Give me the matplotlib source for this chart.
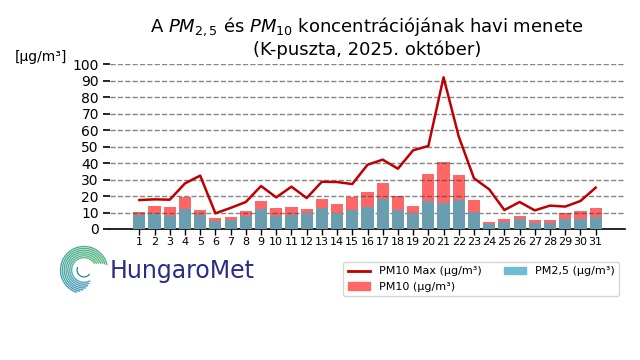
import numpy as np
import matplotlib
matplotlib.use("Agg")
import matplotlib.pyplot as plt
from matplotlib.patches import Patch
from matplotlib.lines import Line2D
from matplotlib.collections import LineCollection
from matplotlib.colors import LinearSegmentedColormap

# ---- data ----
days = list(range(1, 32))
pm10 = [10.3, 14.0, 13.4, 19.4, 11.5, 6.7, 7.3, 10.9, 17.0, 12.8, 13.4, 12.1, 18.2, 15.2, 19.4, 22.5,
        27.9, 20.2, 14.0, 33.4, 40.7, 32.8, 17.6, 4.3, 6.1, 7.9, 5.5, 5.5, 9.7, 10.9, 12.8]
pm25 = [8.3, 9.3, 7.9, 11.9, 8.3, 4.9, 5.5, 7.9, 11.9, 7.9, 8.3, 9.5, 12.8, 9.5, 11.5, 13.4,
        18.2, 11.5, 9.7, 17.0, 15.8, 17.8, 10.5, 3.2, 4.5, 6.1, 3.6, 3.6, 6.1, 6.1, 7.3]
pm10_max = [17.6, 18.0, 17.8, 27.7, 32.4, 9.5, 12.8, 16.4, 26.1, 19.2, 25.7, 18.8, 28.7, 28.5, 27.3, 39.0,
            42.1, 36.6, 47.8, 50.4, 92.1, 56.1, 30.8, 24.1, 11.5, 16.4, 11.3, 14.2, 13.6, 17.0, 25.1]
yticks = list(range(0, 101, 10))
labels = ["PM10 Max (µg/m³)", "PM10 (µg/m³)", "PM2,5 (µg/m³)"]

RED = "#ff6666"
BLUE = "#6b9db0"
BLUE_LEG = "#70bcd2"
LINE = "#c00000"

fig = plt.figure(figsize=(6.4, 3.6), dpi=100)
W, H = 640, 360
ax = fig.add_axes([110 / W, 1 - 229 / H, (625 - 110) / W, (229 - 64.3) / H])

ax.bar(days, pm10, width=0.8, color=RED, zorder=2)
ax.bar(days, pm25, width=0.8, color=BLUE, zorder=3)
ax.plot(days, pm10_max, color=LINE, lw=1.8, zorder=5)

ax.set_xlim(-0.93, 32.93)
ax.set_ylim(0, 100)
ax.set_xticks(days)
ax.set_xticklabels([str(d) for d in days], fontsize=8)
ax.set_yticks(yticks)
ax.set_yticklabels([str(t) for t in yticks], fontsize=10)
ax.tick_params(axis="x", length=4, width=1, pad=2)
ax.tick_params(axis="y", length=5, width=1.2, pad=3)
for s in ["top", "right", "left"]:
    ax.spines[s].set_visible(False)
ax.spines["bottom"].set_linewidth(1.2)
ax.yaxis.grid(True, linestyle="--", color="#444444", alpha=0.65, lw=1, zorder=4)
ax.set_axisbelow(False)

fig.text(15 / W, 1 - 57 / H, "[µg/m³]", fontsize=10, ha="left", va="center")
fig.text(367 / W, 1 - 27 / H, r"A $PM_{2,5}$ és $PM_{10}$ koncentrációjának havi menete",
         fontsize=13, ha="center", va="center")
fig.text(367 / W, 1 - 50 / H, "(K-puszta, 2025. október)", fontsize=13, ha="center", va="center")

handles = [Line2D([0], [0], color=LINE, lw=2),
           Patch(color=RED),
           Patch(color=BLUE_LEG)]
fig.legend(handles, labels, ncol=2, fontsize=8, loc="upper right",
           bbox_to_anchor=(619 / W, 1 - 262 / H), borderaxespad=0, frameon=True)

# ---- logo ----
fig.text(110 / W, 1 - 278 / H, "HungaroMet", fontsize=17, color="#2a2c86",
         ha="left", va="baseline", family="DejaVu Sans", fontweight="normal")
lax = fig.add_axes([58 / W, 1 - 297 / H, 52 / W, 54 / H])
lax.set_xlim(-1.05, 1.05)
lax.set_ylim(-1.05, 1.05)
lax.set_aspect("equal")
lax.axis("off")
cmap = LinearSegmentedColormap.from_list("logo", ["#1f6fb5", "#1b8c9a", "#1f9a6a", "#2aa35a"])
radii = np.linspace(0.5, 0.95, 7)
for i, r in enumerate(radii):
    t1 = np.deg2rad(30 - i * 3)
    t2 = np.deg2rad(300 - i * 8)
    th = np.linspace(t1, t2, 120)
    x, y = r * np.cos(th), r * np.sin(th)
    pts = np.array([x, y]).T.reshape(-1, 1, 2)
    segs = np.concatenate([pts[:-1], pts[1:]], axis=1)
    c = 1 - (th[:-1] - t1) / (np.deg2rad(300) - t1)
    lc = LineCollection(segs, colors=cmap(np.clip(c, 0, 1)), lw=0.9)
    lax.add_collection(lc)
th = np.linspace(np.deg2rad(160), np.deg2rad(320), 40)
lax.plot(0.28 * np.cos(th), 0.28 * np.sin(th), color="#1b8c9a", lw=0.9)

fig.savefig("out.png", dpi=100)
